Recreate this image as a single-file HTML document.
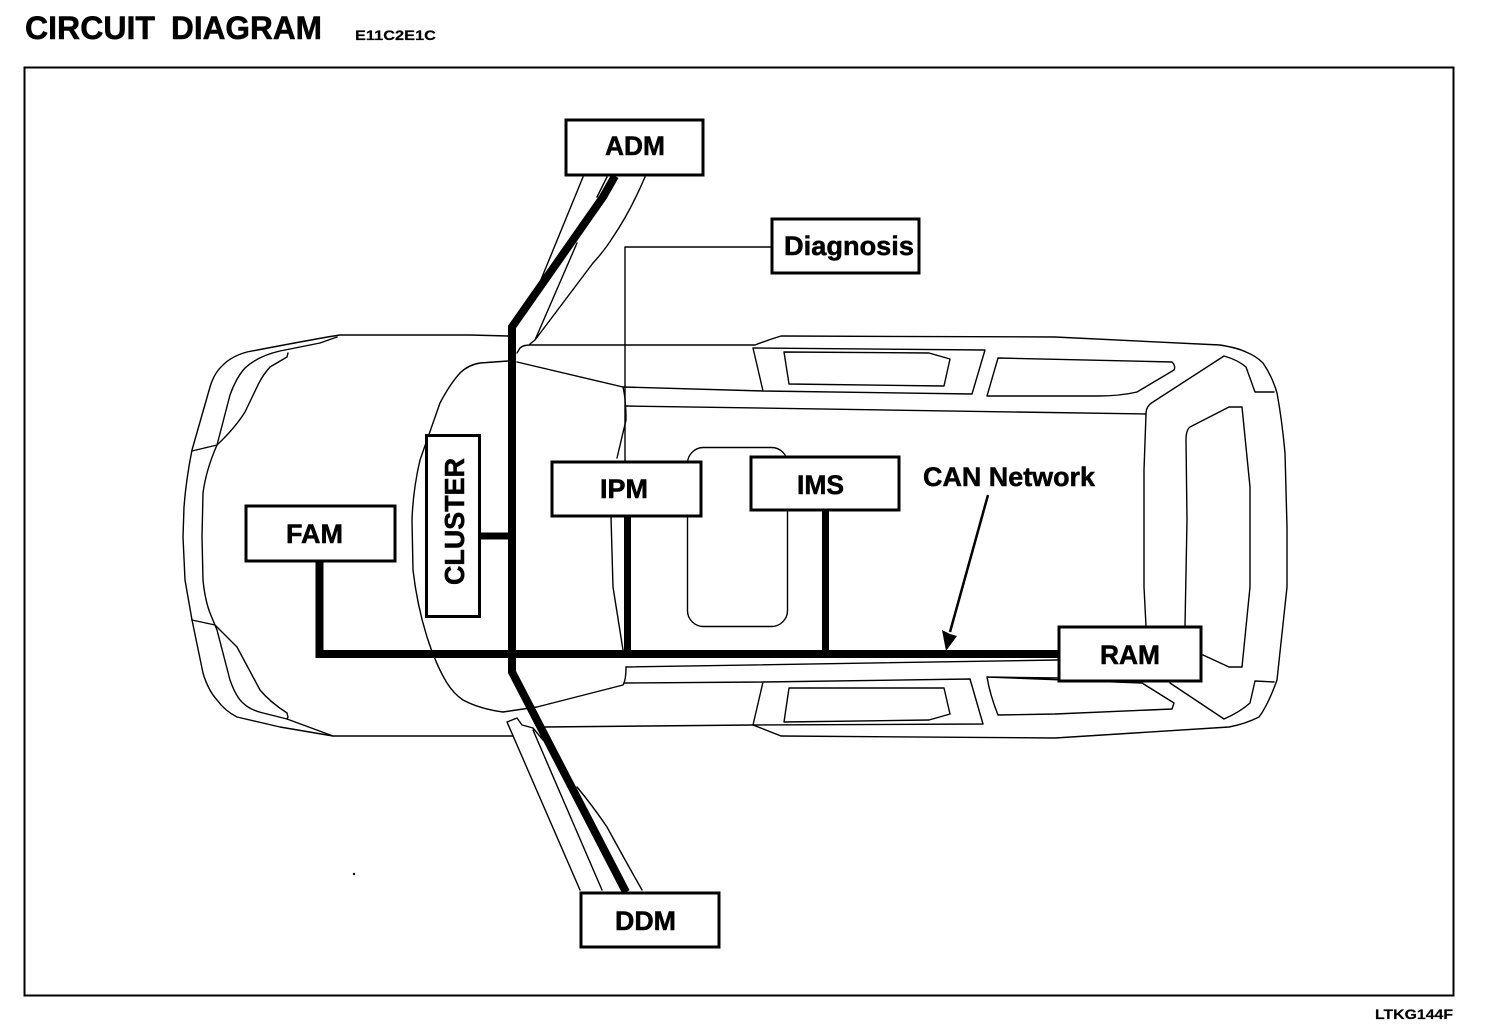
<!DOCTYPE html>
<html><head><meta charset="utf-8"><style>
html,body{margin:0;padding:0;background:#fff}
svg{display:block}
text{font-family:"Liberation Sans",sans-serif;font-weight:bold;fill:#000;stroke:#000;stroke-width:.5}
.t{fill:none;stroke:#000;stroke-width:1.4;stroke-linejoin:round;stroke-linecap:round}
.k{fill:none;stroke:#000;stroke-width:8;stroke-linejoin:miter}
.s{fill:none;stroke:#000;stroke-width:7}
.b{fill:#fff;stroke:#000;stroke-width:3}
</style></head><body>
<svg width="1504" height="1032" viewBox="0 0 1504 1032" xmlns="http://www.w3.org/2000/svg">
<rect width="1504" height="1032" fill="#fff"/>
<rect x="24.5" y="67.5" width="1429" height="928" fill="none" stroke="#000" stroke-width="2"/>
<text x="25" y="39" font-size="32" textLength="130" lengthAdjust="spacingAndGlyphs">CIRCUIT</text>
<text x="171" y="39" font-size="32" textLength="151" lengthAdjust="spacingAndGlyphs">DIAGRAM</text>
<text x="355" y="40" font-size="14" textLength="81" lengthAdjust="spacingAndGlyphs" style="stroke-width:.2">E11C2E1C</text>
<text x="1375" y="1019" font-size="14" textLength="78" lengthAdjust="spacingAndGlyphs" style="stroke-width:.2">LTKG144F</text>

<!-- car body -->
<g class="t">
<path d="M508 336 L470 335 L340 335 Q320 338 247 352 Q232 356 223 365 Q214 373 210 387 L192 450 Q186 480 184 507 L183 537 L185 580 L192 620 L203 673 Q208 690 217 700 Q225 711 237 717 L280 727 L333 736 L473 736 L513 736"/>
<path d="M337 337 L320 343 L280 351 Q258 356 245 368 Q236 378 230 395 L217 445 Q206 470 203 493 L202 537 L203 580 Q205 600 210 613 L217 630 L230 680 Q236 697 243 703 Q250 710 263 713 L287 719 L333 736"/>
<path d="M288 353 L287 357 Q275 364 270 367 Q262 376 257 387 L245 412 Q235 428 217 445 L192 451"/>
<path d="M192 620 L215 625 L237 647 L260 690 Q270 702 287 713 L288 717 L287 719"/>
<path d="M508 361 L480 363 Q468 365 460 373 Q450 384 440 403 L420 460 Q413 490 412 520 L413 570 Q417 605 427 637 Q436 665 447 683 Q454 694 463 700 Q480 709 503 712 L537 707 L623 685 Q626 680 626 667"/>
<path d="M517 362 L623 387 Q626 400 626 420 L617 458"/>
<path d="M611 517 L613 587 L623 650"/>
<path d="M625 247 L771 247 M625 247 L625 461"/>
<!-- roof -->
<path d="M517 353 L520 348 Q523 345 530 345 L755 345 Q768 340 781 336 L1055 337 L1220 345 Q1238 348 1246 352 Q1256 356 1263 363 Q1272 376 1277 393 Q1282 420 1285 453 L1287 527 L1287 587 L1277 680 Q1268 705 1259 717 Q1245 724 1229 727 L1055 738 L781 736 L753 725 L543 727"/>
<path d="M623 387 L763 391 L972 394 L985 350 L753 348 L763 391"/>
<path d="M784 352 L929 353 L950 359 L944 386 L789 384 Z"/>
<path d="M626 406 L1146 414"/>
<path d="M998 358 L1172 362 Q1176 366 1174 370 L1137 392 Q1120 396 1098 396 L987 396 Z"/>
<path d="M1274 392 L1255 392 L1246 367 Q1238 360 1224 356 L1153 402 Q1146 406 1146 414 L1144 470 L1144 587 L1146 626"/>
<path d="M1185 626 L1187 520 L1186 440 Q1186 430 1190 427 L1229 407 L1242 407 L1250 487 L1250 587 L1242 667 L1229 667 L1203 655"/>
<path d="M1170 683 L1224 719 Q1240 712 1250 703 L1255 681 L1274 682"/>
<path d="M987 677 L1057 678 M1142 683 L1174 703 L1172 709 L1055 714 L998 715 Q990 695 987 677 Z"/>
<path d="M624 683 L763 682 L970 679 L983 724 L753 725 L763 682"/>
<path d="M789 688 L944 688 L950 714 L929 720 L784 722 Z"/>
<path d="M626 667 L1057 660"/>
<rect x="687.5" y="447.5" width="100" height="179" rx="16"/>
<!-- doors -->
<path d="M583 177 L540 282 M607 177 L597 197 M577 243 L535 340 M645 177 Q630 212 613 237 Q605 250 593 263 L535 340 L530 344"/>
<path d="M543 740 L533 728 L522 725 L517 718 L507 722 L580 890 M533 730 L602 890 M577 787 Q592 805 607 827 Q625 860 642 890"/>
<circle cx="354" cy="874" r=".5"/>
</g>

<!-- CAN thick lines -->
<path class="k" d="M615 176 L603 197 L512 327 L512 672 L626 892"/>
<path class="k" d="M319.500 562 L319.500 654 L1058 654"/>
<path class="s" d="M627.500 516 L627.500 654"/>
<path class="s" d="M825.500 510 L825.500 654"/>
<path class="s" d="M480 536 L512 536"/>

<path d="M988 495 L950 632" fill="none" stroke="#000" stroke-width="2.500"/>
<path d="M946 651 L942 630 L950 634 L957 636 Z" fill="#000"/>

<!-- boxes -->
<rect class="b" x="566" y="120" width="137" height="55"/>
<rect class="b" x="772" y="219" width="147" height="54"/>
<rect class="b" x="552" y="462" width="149" height="54"/>
<rect class="b" x="751" y="457" width="148" height="53"/>
<rect class="b" x="246" y="506" width="149" height="55"/>
<rect class="b" x="426.500" y="435.500" width="53" height="181"/>
<rect class="b" x="1059" y="627" width="142" height="54"/>
<rect class="b" x="581" y="893" width="138" height="54"/>

<text x="605" y="155" font-size="27" textLength="60" lengthAdjust="spacingAndGlyphs">ADM</text>
<text x="784" y="255" font-size="27" textLength="130" lengthAdjust="spacingAndGlyphs">Diagnosis</text>
<text x="600" y="498" font-size="27" textLength="48" lengthAdjust="spacingAndGlyphs">IPM</text>
<text x="797" y="494" font-size="27" textLength="47" lengthAdjust="spacingAndGlyphs">IMS</text>
<text x="286" y="543" font-size="27" textLength="57" lengthAdjust="spacingAndGlyphs">FAM</text>
<text x="1100" y="664" font-size="27" textLength="60" lengthAdjust="spacingAndGlyphs">RAM</text>
<text x="615" y="930" font-size="27" textLength="61" lengthAdjust="spacingAndGlyphs">DDM</text>
<text x="923" y="486" font-size="27" textLength="172" lengthAdjust="spacingAndGlyphs">CAN Network</text>
<text transform="translate(464 585) rotate(-90)" font-size="28" textLength="127" lengthAdjust="spacingAndGlyphs">CLUSTER</text>
</svg>
</body></html>
